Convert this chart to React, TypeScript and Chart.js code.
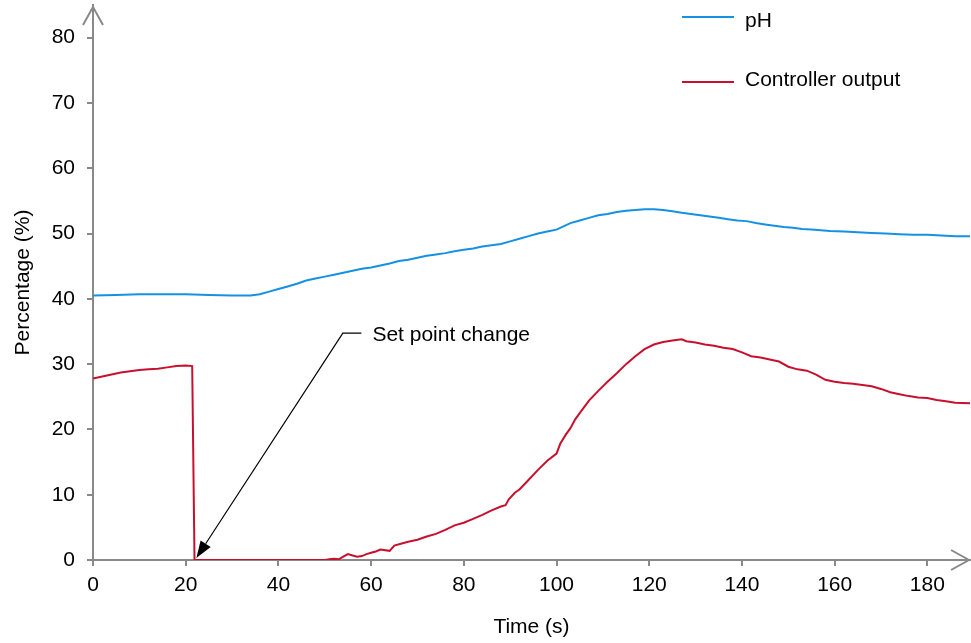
import React, { useEffect, useRef } from "react";
import { Chart, registerables } from "chart.js";

Chart.register(...registerables);

// ---------- data ----------
const X_TICKS = [0, 20, 40, 60, 80, 100, 120, 140, 160, 180];
const Y_TICKS = [0, 10, 20, 30, 40, 50, 60, 70, 80];
const X_MAX = 189.2;
const Y_MAX = 85;

const SERIES_LABELS = ["pH", "Controller output"];
const X_TITLE = "Time (s)";
const Y_TITLE = "Percentage (%)";

const PH_TIME = [
  0, 5, 10, 15, 20, 25, 30, 34, 36, 38,
  40, 42, 44, 46, 48, 50, 52, 54, 56, 58,
  60, 62, 64, 66, 68, 70, 72, 74, 76, 78,
  80, 82, 84, 86, 88, 90, 92, 94, 96, 98,
  100, 101.5, 103, 105, 107, 109, 111, 113, 115, 117, 119, 121,
  123, 125, 127, 129, 131, 133, 135, 137, 139, 141,
  143, 145, 147, 149, 151, 153, 155, 157, 159,
  162, 165, 168, 171, 174, 177, 180, 183, 186, 189.2,
];
const PH_VALUES = [
  40.5, 40.6, 40.7, 40.7, 40.7, 40.6, 40.5, 40.5, 40.7, 41.1,
  41.5, 41.9, 42.3, 42.8, 43.1, 43.4, 43.7, 44.0, 44.3, 44.6,
  44.8, 45.1, 45.4, 45.8, 46.0, 46.3, 46.6, 46.8, 47.0, 47.3,
  47.5, 47.7, 48.0, 48.2, 48.4, 48.8, 49.2, 49.6, 50.0, 50.3,
  50.6, 51.1, 51.6, 52.0, 52.4, 52.8, 53.0, 53.3, 53.5, 53.6, 53.7, 53.7,
  53.6, 53.4, 53.2, 53.0, 52.8, 52.6, 52.4, 52.2, 52.0, 51.9,
  51.6, 51.4, 51.2, 51.0, 50.9, 50.7, 50.6, 50.5, 50.4,
  50.3, 50.2, 50.1, 50.0, 49.9, 49.8, 49.8, 49.7, 49.6, 49.6,
];

const CO_TIME = [
  0, 2, 4, 6, 8, 10, 12, 14, 16, 18, 20, 21.4, 21.9,
  30, 40, 50,
  51, 52, 53, 54, 55, 56, 57, 58, 59, 60, 61, 62,
  64, 65, 67, 68,
  70, 72, 74, 76, 78, 80, 82, 84, 86, 88,
  89, 89.7, 91, 92,
  94, 96, 98, 100,
  100.8, 102, 103, 104, 105,
  107, 109, 111, 113, 115, 117, 119, 121, 123, 125, 127,
  128,
  130, 132, 134, 136, 138, 140, 142, 144, 146, 148,
  150, 152, 154, 156, 158, 160, 162, 164, 166, 168,
  170, 172, 174, 176, 178, 180, 182, 184, 186,
  189.2,
];
const CO_VALUES = [
  27.8, 28.1, 28.4, 28.7, 28.9, 29.1, 29.2, 29.3, 29.5, 29.7, 29.8, 29.7, 0,
  0, 0, 0,
  0.1, 0.2, 0.1, 0.5, 0.9, 0.7, 0.5, 0.6, 0.9, 1.1, 1.3, 1.6,
  1.4, 2.2, 2.6, 2.8,
  3.1, 3.6, 4.0, 4.6, 5.3, 5.7, 6.3, 6.9, 7.6, 8.2,
  8.4, 9.3, 10.3, 10.8,
  12.3, 13.8, 15.2, 16.3,
  17.8, 19.2, 20.2, 21.5, 22.5,
  24.4, 25.9, 27.3, 28.6, 30.0, 31.2, 32.3, 33.0, 33.4, 33.6, 33.8,
  33.5,
  33.3, 33.0, 32.8, 32.5, 32.3, 31.8, 31.2, 31.0, 30.7, 30.4,
  29.6, 29.2, 29.0, 28.4, 27.6, 27.3, 27.1, 27.0, 26.8, 26.6,
  26.2, 25.7, 25.4, 25.1, 24.9, 24.8, 24.5, 24.3, 24.1,
  24.0,
];

const ANNOTATION_TEXT = "Set point change";
const ANNOTATION_TIP = { x: 22.3, y: 0.3 };
const ANNOTATION_ELBOW = { x: 53.9, y: 34.75 };
const ANNOTATION_END = { x: 57.9, y: 34.75 };

// ---------- styles ----------
const FONT_FAMILY = "'Liberation Sans', Arial, Helvetica, sans-serif";
const FONT_SIZE = 21;
const AXIS_COLOR = "#898989";
const PH_COLOR = "#1591e3";
const CO_COLOR = "#c8102e";
const SERIES_COLORS = [PH_COLOR, CO_COLOR];

const overlayPlugin = {
  id: "overlay",
  afterDraw(chart: any) {
    const { ctx, chartArea: a, scales } = chart;
    const xs = scales.x;
    const ys = scales.y;
    ctx.save();

    // axis arrowheads
    ctx.strokeStyle = AXIS_COLOR;
    ctx.lineWidth = 2;
    ctx.lineJoin = "miter";
    ctx.beginPath();
    ctx.moveTo(a.left - 10, a.top + 20);
    ctx.lineTo(a.left, a.top + 2);
    ctx.lineTo(a.left + 10, a.top + 20);
    ctx.moveTo(a.right - 19, a.bottom - 10);
    ctx.lineTo(a.right - 1, a.bottom);
    ctx.lineTo(a.right - 19, a.bottom + 10);
    ctx.stroke();

    // annotation
    const tx = xs.getPixelForValue(ANNOTATION_TIP.x);
    const ty = ys.getPixelForValue(ANNOTATION_TIP.y);
    const ex = xs.getPixelForValue(ANNOTATION_ELBOW.x);
    const ey = ys.getPixelForValue(ANNOTATION_ELBOW.y);
    const hx = xs.getPixelForValue(ANNOTATION_END.x);
    const hy = ys.getPixelForValue(ANNOTATION_END.y);
    const ang = Math.atan2(ty - ey, tx - ex);
    const headLen = 17;
    const headW = 6;
    const bx = tx - headLen * Math.cos(ang);
    const by = ty - headLen * Math.sin(ang);
    ctx.strokeStyle = "#000";
    ctx.lineWidth = 1.2;
    ctx.beginPath();
    ctx.moveTo(hx, hy);
    ctx.lineTo(ex, ey);
    ctx.lineTo(bx, by);
    ctx.stroke();
    ctx.fillStyle = "#000";
    ctx.beginPath();
    ctx.moveTo(tx, ty);
    ctx.lineTo(bx + headW * Math.sin(ang), by - headW * Math.cos(ang));
    ctx.lineTo(bx - headW * Math.sin(ang), by + headW * Math.cos(ang));
    ctx.closePath();
    ctx.fill();

    ctx.font = `${FONT_SIZE}px ${FONT_FAMILY}`;
    ctx.textAlign = "left";
    ctx.textBaseline = "alphabetic";
    ctx.fillStyle = "#000";
    ctx.fillText(ANNOTATION_TEXT, hx + 11, hy + 7.5);

    // legend
    const legendLineX0 = 682;
    const legendLineX1 = 734;
    const legendTextX = 745;
    const lineYs = [17, 82];
    const textBaselines = [27, 86];
    chart.data.datasets.forEach((ds: any, i: number) => {
      ctx.strokeStyle = ds.borderColor;
      ctx.lineWidth = 2;
      ctx.beginPath();
      ctx.moveTo(legendLineX0, lineYs[i]);
      ctx.lineTo(legendLineX1, lineYs[i]);
      ctx.stroke();
      ctx.fillStyle = "#000";
      ctx.fillText(ds.label, legendTextX, textBaselines[i]);
    });

    ctx.restore();
  },
};

export default function App() {
  const canvasRef = useRef<HTMLCanvasElement | null>(null);

  useEffect(() => {
    const canvas = canvasRef.current;
    if (!canvas) return;

    const phData = PH_TIME.map((t, i) => ({ x: t, y: PH_VALUES[i] }));
    const coData = CO_TIME.map((t, i) => ({ x: t, y: CO_VALUES[i] }));

    const tickFont = { family: FONT_FAMILY, size: FONT_SIZE };

    const chart = new Chart(canvas, {
      type: "line",
      data: {
        datasets: [
          {
            label: SERIES_LABELS[0],
            data: phData,
            borderColor: SERIES_COLORS[0],
            backgroundColor: SERIES_COLORS[0],
            borderWidth: 2,
            pointRadius: 0,
            tension: 0,
            fill: false,
          },
          {
            label: SERIES_LABELS[1],
            data: coData,
            borderColor: SERIES_COLORS[1],
            backgroundColor: SERIES_COLORS[1],
            borderWidth: 2,
            pointRadius: 0,
            tension: 0,
            fill: false,
          },
        ],
      },
      options: {
        responsive: false,
        animation: false,
        devicePixelRatio: 1,
        layout: { padding: { top: 5, right: 1, left: 0, bottom: 0 } },
        plugins: {
          legend: { display: false },
          tooltip: { enabled: false },
        },
        scales: {
          x: {
            type: "linear",
            min: 0,
            max: X_MAX,
            afterBuildTicks: (scale: any) => {
              scale.ticks = X_TICKS.map((v) => ({ value: v }));
            },
            afterFit: (scale: any) => {
              scale.height = 83;
              scale.paddingLeft = 0;
              scale.paddingRight = 0;
            },
            ticks: {
              font: tickFont,
              color: "#000",
              padding: 7,
              autoSkip: false,
              maxRotation: 0,
            },
            grid: {
              drawOnChartArea: false,
              drawTicks: true,
              tickLength: 6,
              color: AXIS_COLOR,
              lineWidth: 2,
            },
            border: { display: true, color: AXIS_COLOR, width: 2 },
            title: {
              display: true,
              text: X_TITLE,
              color: "#000",
              font: tickFont,
              padding: { top: 0, bottom: 3 },
            },
          },
          y: {
            type: "linear",
            min: 0,
            max: Y_MAX,
            afterBuildTicks: (scale: any) => {
              scale.ticks = Y_TICKS.map((v) => ({ value: v }));
            },
            afterFit: (scale: any) => {
              scale.width = 93;
              scale.paddingTop = 0;
              scale.paddingBottom = 0;
            },
            ticks: {
              font: tickFont,
              color: "#000",
              padding: 12,
              autoSkip: false,
            },
            grid: {
              drawOnChartArea: false,
              drawTicks: true,
              tickLength: 6,
              color: AXIS_COLOR,
              lineWidth: 2,
            },
            border: { display: true, color: AXIS_COLOR, width: 2 },
            title: {
              display: true,
              text: Y_TITLE,
              color: "#000",
              font: tickFont,
              padding: { top: 11, bottom: 0 },
            },
          },
        },
      },
      plugins: [overlayPlugin],
    } as any);

    return () => {
      chart.destroy();
    };
  }, []);

  return (
    <div style={{ position: "absolute", left: 0, top: 0, width: 971, height: 643, background: "#fff" }}>
      <canvas ref={canvasRef} width={971} height={643} style={{ display: "block" }} />
    </div>
  );
}
